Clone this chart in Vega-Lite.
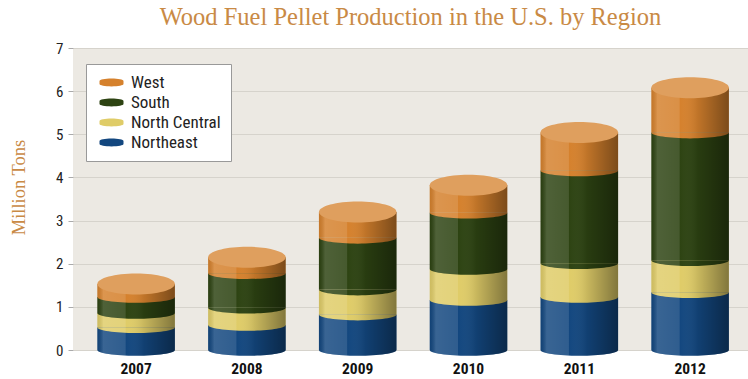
{
  "$schema": "https://vega.github.io/schema/vega-lite/v6.json",
  "width": 675,
  "height": 302,
  "autosize": {"type": "none"},
  "padding": {"left": 73, "top": 48, "right": 0, "bottom": 29},
  "background": "white",
  "title": {
    "text": "Wood Fuel Pellet Production in the U.S. by Region",
    "font": "Liberation Serif",
    "fontSize": 24.5,
    "fontWeight": "normal",
    "color": "#c98a45",
    "anchor": "middle",
    "offset": 11
  },
  "config": {
    "view": {"stroke": null, "fill": "#ece9e3"},
    "font": "'Liberation Sans Narrow', 'Roboto Condensed', 'DejaVu Sans Condensed', Roboto, sans-serif"
  },
  "data": {
    "values": [
      {"year": "2007", "region": "Northeast", "k": 1, "value": 0.53},
      {"year": "2007", "region": "North Central", "k": 2, "value": 0.33},
      {"year": "2007", "region": "South", "k": 3, "value": 0.37},
      {"year": "2007", "region": "West", "k": 4, "value": 0.30},
      {"year": "2008", "region": "Northeast", "k": 1, "value": 0.58},
      {"year": "2008", "region": "North Central", "k": 2, "value": 0.40},
      {"year": "2008", "region": "South", "k": 3, "value": 0.80},
      {"year": "2008", "region": "West", "k": 4, "value": 0.37},
      {"year": "2009", "region": "Northeast", "k": 1, "value": 0.82},
      {"year": "2009", "region": "North Central", "k": 2, "value": 0.58},
      {"year": "2009", "region": "South", "k": 3, "value": 1.20},
      {"year": "2009", "region": "West", "k": 4, "value": 0.60},
      {"year": "2010", "region": "Northeast", "k": 1, "value": 1.16},
      {"year": "2010", "region": "North Central", "k": 2, "value": 0.72},
      {"year": "2010", "region": "South", "k": 3, "value": 1.30},
      {"year": "2010", "region": "West", "k": 4, "value": 0.64},
      {"year": "2011", "region": "Northeast", "k": 1, "value": 1.23},
      {"year": "2011", "region": "North Central", "k": 2, "value": 0.78},
      {"year": "2011", "region": "South", "k": 3, "value": 2.15},
      {"year": "2011", "region": "West", "k": 4, "value": 0.88},
      {"year": "2012", "region": "Northeast", "k": 1, "value": 1.34},
      {"year": "2012", "region": "North Central", "k": 2, "value": 0.74},
      {"year": "2012", "region": "South", "k": 3, "value": 2.96},
      {"year": "2012", "region": "West", "k": 4, "value": 1.04}
    ]
  },
  "transform": [
    {"stack": "value", "groupby": ["year"], "sort": [{"field": "k", "order": "ascending"}], "as": ["y0", "y1"]}
  ],
  "encoding": {
    "x": {
      "field": "year",
      "type": "ordinal",
      "scale": {"paddingInner": 0.3, "paddingOuter": 0.196, "align": 0.56},
      "axis": {
        "title": null,
        "domain": false,
        "ticks": false,
        "labelAngle": 0,
        "labelFontSize": 15.5,
        "labelFontWeight": "bold",
        "labelColor": "#111111",
        "labelPadding": 11
      }
    }
  },
  "layer": [
    {
      "mark": {"type": "bar"},
      "encoding": {
        "y": {
          "field": "y1",
          "type": "quantitative",
          "title": "Million Tons",
          "scale": {"domain": [0, 7], "nice": false},
          "axis": {
            "values": [0, 1, 2, 3, 4, 5, 6, 7],
            "grid": true,
            "gridColor": "#d6d3cc",
            "domain": false,
            "tickColor": "#aaaaaa",
            "tickSize": 5,
            "labelFontSize": 15,
            "labelColor": "#222222",
            "labelPadding": 5,
            "titleFont": "Liberation Serif",
            "titleFontSize": 18.5,
            "titleFontWeight": "normal",
            "titleColor": "#c98a45",
            "titleAngle": -90,
            "titleX": -55,
            "titleY": 139,
            "titleAlign": "center",
            "titleBaseline": "middle"
          }
        },
        "y2": {"field": "y0"},
        "color": {
          "field": "region",
          "type": "nominal",
          "scale": {
            "domain": ["West", "South", "North Central", "Northeast"],
            "range": ["#d5812d", "#2d4312", "#dfcc68", "#13477f"]
          },
          "legend": {
            "title": null,
            "orient": "none",
            "legendX": 13,
            "legendY": 16,
            "direction": "vertical",
            "fillColor": "white",
            "strokeColor": "#999999",
            "padding": 10,
            "symbolType": "M-0.625,-0.2A1.5,0.3,0,0,1,2.375,-0.2L2.375,0.2A1.5,0.3,0,0,1,-0.625,0.2Z",
            "symbolSize": 256,
            "symbolStrokeWidth": 0,
            "symbolOpacity": 1,
            "labelFontSize": 17,
            "labelColor": "#222222",
            "labelOffset": 18,
            "rowPadding": 2
          }
        }
      }
    },
    {
      "mark": {"type": "point", "filled": true, "opacity": 1, "size": 6015, "shape": "M-1,0A1,0.15,0,0,0,1,0Z", "strokeWidth": 0},
      "encoding": {
        "y": {"field": "y0", "type": "quantitative", "title": "Million Tons"},
        "color": {"field": "region", "type": "nominal"}
      }
    },
    {
      "transform": [{"filter": "datum.region === 'West'"}],
      "mark": {
        "type": "bar",
        "color": {
          "gradient": "linear", "x1": 0, "y1": 0, "x2": 1, "y2": 0,
          "stops": [
            {"offset": 0, "color": "rgba(0,0,0,0.08)"},
            {"offset": 0.08, "color": "rgba(255,255,255,0.16)"},
            {"offset": 0.36, "color": "rgba(255,255,255,0.12)"},
            {"offset": 0.37, "color": "rgba(255,255,255,0)"},
            {"offset": 0.6, "color": "rgba(0,0,0,0.1)"},
            {"offset": 1, "color": "rgba(0,0,0,0.42)"}
          ]
        }
      },
      "encoding": {
        "y": {"field": "y1", "type": "quantitative", "title": "Million Tons"},
        "y2": {"datum": 0}
      }
    },
    {
      "transform": [{"filter": "datum.region === 'Northeast'"}],
      "mark": {
        "type": "point", "filled": true, "opacity": 1, "size": 6015, "strokeWidth": 0,
        "shape": "M-1,0A1,0.15,0,0,0,1,0Z",
        "color": {
          "gradient": "linear", "x1": 0, "y1": 0, "x2": 1, "y2": 0,
          "stops": [
            {"offset": 0, "color": "rgba(0,0,0,0.08)"},
            {"offset": 0.08, "color": "rgba(255,255,255,0.16)"},
            {"offset": 0.36, "color": "rgba(255,255,255,0.12)"},
            {"offset": 0.37, "color": "rgba(255,255,255,0)"},
            {"offset": 0.6, "color": "rgba(0,0,0,0.1)"},
            {"offset": 1, "color": "rgba(0,0,0,0.42)"}
          ]
        }
      },
      "encoding": {
        "y": {"field": "y0", "type": "quantitative", "title": "Million Tons"}
      }
    },
    {
      "transform": [{"filter": "datum.region === 'West'"}],
      "mark": {
        "type": "point", "filled": true, "opacity": 1, "size": 6015, "strokeWidth": 0,
        "shape": "M-1,0A1,0.27,0,1,0,1,0A1,0.27,0,1,0,-1,0Z",
        "color": "#df9f5e"
      },
      "encoding": {
        "y": {"field": "y1", "type": "quantitative", "title": "Million Tons"}
      }
    }
  ]
}
